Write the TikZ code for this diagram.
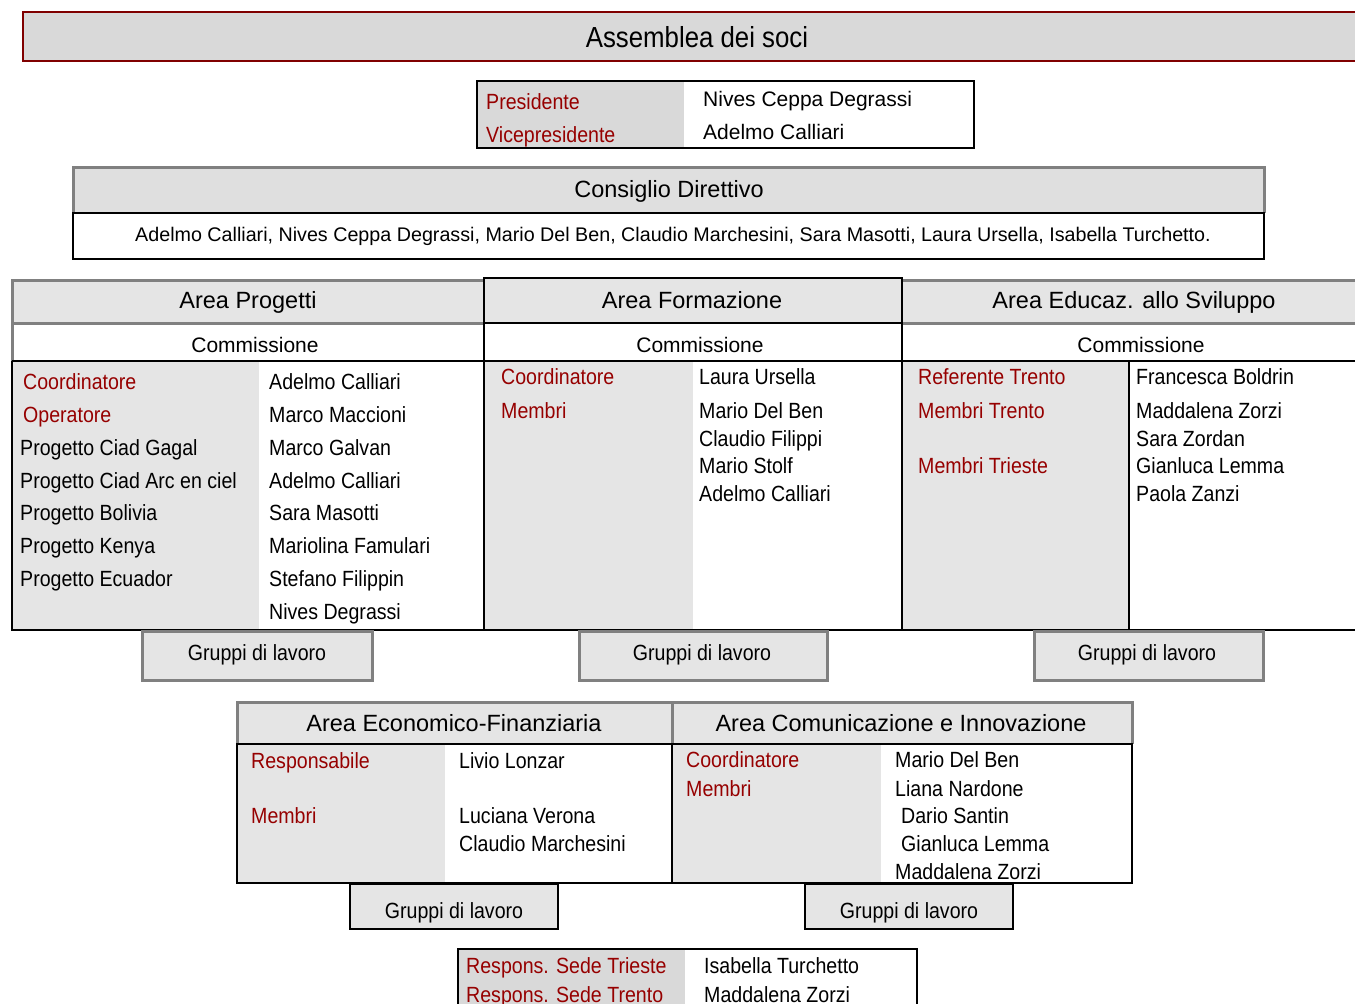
\documentclass[tikz,border=0pt]{standalone}
\usepackage{fontspec}
\setmainfont{Liberation Sans}
\newfontfamily\narrowfont[FakeStretch=0.89]{Liberation Sans}
\definecolor{rd}{RGB}{150,0,0}
\definecolor{asborder}{RGB}{128,0,0}
\definecolor{asfill}{RGB}{217,217,217}
\definecolor{cdfill}{RGB}{223,223,223}
\definecolor{hdr}{RGB}{229,229,229}
\definecolor{gline}{RGB}{128,128,128}
\tikzset{
  nar/.style={font=\narrowfont\fontsize{22}{26}\selectfont, inner sep=0pt, anchor=base west},
  narc/.style={font=\narrowfont\fontsize{22}{26}\selectfont, inner sep=0pt, anchor=base},
  rednar/.style={nar, text=rd},
  hdrtext/.style={font=\fontsize{23.5}{28}\selectfont, inner sep=0pt, anchor=base},
  comm/.style={font=\fontsize{21}{25}\selectfont, inner sep=0pt, anchor=base},
  regl/.style={font=\fontsize{21}{25}\selectfont, inner sep=0pt, anchor=base west},
  blk/.style={draw=black, line width=2pt},
  gry/.style={draw=gline, line width=3pt},
  grpgray/.style={fill=hdr, draw=gline, line width=3pt},
  grpblack/.style={fill=hdr, draw=black, line width=2pt},
}
\begin{document}
\begin{tikzpicture}[x=1pt,y=-1pt]
\useasboundingbox (0,0) rectangle (1355,1004);
\fill[white] (0,0) rectangle (1355,1004);

% Assemblea dei soci
\draw[fill=asfill, draw=asborder, line width=2pt] (23,12) rectangle (1370,61);
\node[font=\narrowfont\fontsize{29}{34}\selectfont, inner sep=0pt, anchor=base] (assemblea) at (697,47.5) {Assemblea dei soci};

% Presidente box
\fill[asfill] (477,81) rectangle (684,148);
\draw[blk] (477,81) rectangle (974,148);
\node[rednar] (pres) at (486,109) {Presidente};
\node[rednar] (vice) at (486,142) {Vicepresidente};
\node[regl] (presn) at (703,106) {Nives Ceppa Degrassi};
\node[regl] (vicen) at (703,139) {Adelmo Calliari};

% Consiglio Direttivo
\fill[cdfill] (73,167) rectangle (1264,213);
\draw[gry] (73,213) -- (73,167) -- (1264,167) -- (1264,213);
\draw[blk] (73,213) rectangle (1264,259);
\node[font=\fontsize{23.5}{28}\selectfont, inner sep=0pt, anchor=base] (cd) at (669,197) {Consiglio Direttivo};
\node[font=\fontsize{19.7}{24}\selectfont, inner sep=0pt, anchor=base] (cdm) at (673,241) {Adelmo Calliari, Nives Ceppa Degrassi, Mario Del Ben, Claudio Marchesini, Sara Masotti, Laura Ursella, Isabella Turchetto.};

% Areas row fills
\fill[hdr] (12,279) rectangle (1370,323);
\fill[hdr] (12,361) rectangle (259,630);
\fill[hdr] (484,361) rectangle (693,630);
\fill[hdr] (902,361) rectangle (1129,630);
% gray borders
\draw[gry] (484,280) -- (12,280) -- (12,361);
\draw[gry] (12,323) -- (484,323);
\draw[gry] (902,280) -- (1370,280);
\draw[gry] (902,323) -- (1370,323);
% black borders
\draw[blk] (484,278) rectangle (902,323);
\draw[blk] (12,361) -- (1370,361);
\draw[blk] (12,361) -- (12,630);
\draw[blk] (484,323) -- (484,630);
\draw[blk] (902,323) -- (902,630);
\draw[blk] (1129,361) -- (1129,630);
\draw[blk] (11,630) -- (1370,630);

\node[hdrtext] (hp) at (248,308) {Area Progetti};
\node[hdrtext] (hf) at (692,308) {Area Formazione};
\node[hdrtext] (he) at (1134,308) {Area Educaz. allo Sviluppo};
\node[comm] (cp) at (255,352) {Commissione};
\node[comm] (cf) at (700,352) {Commissione};
\node[comm] (ce) at (1141,352) {Commissione};

% Area Progetti body
\node[rednar] (p1) at (23,389) {Coordinatore};
\node[rednar] (p2) at (23,422) {Operatore};
\node[nar] (p3) at (20,455) {Progetto Ciad Gagal};
\node[nar] (p4) at (20,488) {Progetto Ciad Arc en ciel};
\node[nar] (p5) at (20,520) {Progetto Bolivia};
\node[nar] (p6) at (20,553) {Progetto Kenya};
\node[nar] (p7) at (20,586) {Progetto Ecuador};
\node[nar] (q1) at (269,389) {Adelmo Calliari};
\node[nar] (q2) at (269,422) {Marco Maccioni};
\node[nar] (q3) at (269,455) {Marco Galvan};
\node[nar] (q4) at (269,488) {Adelmo Calliari};
\node[nar] (q5) at (269,520) {Sara Masotti};
\node[nar] (q6) at (269,553) {Mariolina Famulari};
\node[nar] (q7) at (269,586) {Stefano Filippin};
\node[nar] (q8) at (269,619) {Nives Degrassi};

% Area Formazione body
\node[rednar] (f1) at (501,384) {Coordinatore};
\node[rednar] (f2) at (501,418) {Membri};
\node[nar] (g1) at (699,384) {Laura Ursella};
\node[nar] (g2) at (699,418) {Mario Del Ben};
\node[nar] (g3) at (699,446) {Claudio Filippi};
\node[nar] (g4) at (699,473) {Mario Stolf};
\node[nar] (g5) at (699,501) {Adelmo Calliari};

% Area Educaz body
\node[rednar] (e1) at (918,384) {Referente Trento};
\node[rednar] (e2) at (918,418) {Membri Trento};
\node[rednar] (e3) at (918,473) {Membri Trieste};
\node[nar] (s1) at (1136,384) {Francesca Boldrin};
\node[nar] (s2) at (1136,418) {Maddalena Zorzi};
\node[nar] (s3) at (1136,446) {Sara Zordan};
\node[nar] (s4) at (1136,473) {Gianluca Lemma};
\node[nar] (s5) at (1136,501) {Paola Zanzi};

% Gruppi di lavoro (upper)
\draw[grpgray] (142,631) rectangle (372,680);
\draw[grpgray] (579,631) rectangle (827,680);
\draw[grpgray] (1034,631) rectangle (1263,680);
\node[narc] (gl1) at (257,660) {Gruppi di lavoro};
\node[narc] (gl2) at (702,660) {Gruppi di lavoro};
\node[narc] (gl3) at (1147,660) {Gruppi di lavoro};

% Lower areas
\fill[hdr] (237,702) rectangle (1132,744);
\fill[hdr] (237,744) rectangle (445,883);
\fill[hdr] (672,744) rectangle (881,883);
\draw[gry] (237,744) -- (237,702) -- (1132,702) -- (1132,744);
\draw[gry] (672,702) -- (672,744);
\draw[blk] (237,744) rectangle (1132,883);
\draw[blk] (672,744) -- (672,883);
\node[hdrtext] (he1) at (454,731) {Area Economico-Finanziaria};
\node[hdrtext] (he2) at (901,731) {Area Comunicazione e Innovazione};

\node[rednar] (r1) at (251,768) {Responsabile};
\node[rednar] (r2) at (251,823) {Membri};
\node[nar] (t1) at (459,768) {Livio Lonzar};
\node[nar] (t2) at (459,823) {Luciana Verona};
\node[nar] (t3) at (459,851) {Claudio Marchesini};

\node[rednar] (c1) at (686,767) {Coordinatore};
\node[rednar] (c2) at (686,796) {Membri};
\node[nar] (d1) at (895,767) {Mario Del Ben};
\node[nar] (d2) at (895,796) {Liana Nardone};
\node[nar] (d3) at (901,823) {Dario Santin};
\node[nar] (d4) at (901,851) {Gianluca Lemma};
\node[nar] (d5) at (895,879) {Maddalena Zorzi};

\draw[grpblack] (350,884) rectangle (558,929);
\draw[grpblack] (805,884) rectangle (1013,929);
\node[narc] (gl4) at (454,918) {Gruppi di lavoro};
\node[narc] (gl5) at (909,918) {Gruppi di lavoro};

% Bottom box
\fill[asfill] (458,949) rectangle (685,1012);
\draw[blk] (458,949) rectangle (917,1012);
\node[rednar] (b1) at (466,973) {Respons. Sede Trieste};
\node[rednar] (b2) at (466,1002) {Respons. Sede Trento};
\node[nar] (b3) at (704,973) {Isabella Turchetto};
\node[nar] (b4) at (704,1002) {Maddalena Zorzi};
\end{tikzpicture}
\end{document}
